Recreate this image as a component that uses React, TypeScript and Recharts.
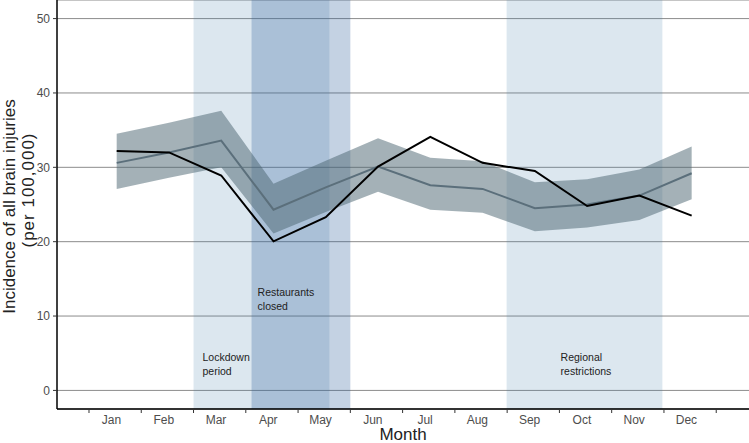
import { ComposedChart, Area, Line, XAxis, YAxis, CartesianGrid, ReferenceArea } from 'recharts';

const MONTHS = ['Jan', 'Feb', 'Mar', 'Apr', 'May', 'Jun', 'Jul', 'Aug', 'Sep', 'Oct', 'Nov', 'Dec'];
const OBSERVED = [32.2, 32.0, 28.9, 20.05, 23.3, 30.1, 34.1, 30.6, 29.5, 24.8, 26.2, 23.5];
const EXPECTED = [30.6, 32.0, 33.6, 24.3, 27.3, 30.1, 27.6, 27.1, 24.5, 25.0, 26.2, 29.2];
const UPPER = [34.5, 36.0, 37.6, 27.8, 30.9, 33.9, 31.3, 30.8, 28.0, 28.4, 29.7, 32.8];
const LOWER = [27.1, 28.6, 30.0, 21.1, 24.0, 26.7, 24.3, 23.9, 21.4, 21.9, 22.9, 25.7];
const Y_TICKS = [0, 10, 20, 30, 40, 50];

// periods, in month units (Jan = 1)
const LOCKDOWN = [2.47, 5.07];
const RESTAURANTS = [3.58, 5.47];
const REGIONAL = [8.46, 11.44];

const FONT = '"Liberation Sans", Arial, sans-serif';

const data = MONTHS.map((name, i) => ({
  m: i + 1,
  name,
  observed: OBSERVED[i],
  expected: EXPECTED[i],
  band: [LOWER[i], UPPER[i]],
}));

// month boundaries get a tick mark, month labels sit in between
const BOUNDARIES = MONTHS.map((_, i) => i + 0.47).concat(12.47);
const LABEL_POS = MONTHS.map((_, i) => i + 0.9);
const labelAt = new Map(LABEL_POS.map((p, i) => [p, MONTHS[i]]));

function MonthTick(props: any) {
  const { x, y, payload } = props;
  const label = labelAt.get(payload.value);
  if (label) {
    return (
      <text x={x} y={y + 15} textAnchor="middle" fontSize={12} fill="#4d4d4d" fontFamily={FONT}>
        {label}
      </text>
    );
  }
  return <line x1={x} x2={x} y1={y} y2={y + 4} stroke="#333" strokeWidth={1} />;
}

function Note(props: any) {
  const { viewBox, lines, dx, fromBottom } = props;
  const base = viewBox.y + viewBox.height - fromBottom;
  return (
    <g>
      {lines.map((t: string, i: number) => (
        <text key={t} x={viewBox.x + dx} y={base + i * 14} fontSize={10.5} fill="#222" fontFamily={FONT}>
          {t}
        </text>
      ))}
    </g>
  );
}

function YTitle() {
  return (
    <g>
      <text
        transform="translate(15, 206.5) rotate(-90)"
        textAnchor="middle"
        fontFamily={FONT}
        fontSize={17}
        fill="#222"
      >
        Incidence of all brain injuries
      </text>
      <text
        transform="translate(33.5, 190) rotate(-90)"
        textAnchor="middle"
        fontFamily={FONT}
        fontSize={17}
        fill="#222"
        letterSpacing={1}
      >
        (per 100,000)
      </text>
    </g>
  );
}

function XTitle(props: any) {
  const { viewBox } = props;
  return (
    <text x={viewBox.x + viewBox.width / 2} y={440} textAnchor="middle" fontSize={17} fill="#222" fontFamily={FONT}>
      Month
    </text>
  );
}

export default function App() {
  return (
    <div style={{ position: 'absolute', left: 0, top: 0, fontFamily: FONT }}>
      <ComposedChart width={749} height={443} data={data} margin={{ top: 0, right: 0, bottom: 0, left: 0 }}>
        <CartesianGrid vertical={false} stroke="#8c8c8c" />
        <ReferenceArea
          x1={LOCKDOWN[0]}
          x2={LOCKDOWN[1]}
          fill="#4682aa"
          fillOpacity={0.19}
          stroke="none"
          label={<Note lines={['Lockdown', 'period']} dx={9} fromBottom={48} />}
        />
        <ReferenceArea
          x1={RESTAURANTS[0]}
          x2={RESTAURANTS[1]}
          fill="#2a5e9b"
          fillOpacity={0.28}
          stroke="none"
          label={<Note lines={['Restaurants', 'closed']} dx={6} fromBottom={113} />}
        />
        <ReferenceArea
          x1={REGIONAL[0]}
          x2={REGIONAL[1]}
          fill="#4682aa"
          fillOpacity={0.19}
          stroke="none"
          label={<Note lines={['Regional', 'restrictions']} dx={54} fromBottom={48} />}
        />
        <XAxis
          type="number"
          dataKey="m"
          domain={[-0.142, 13.097]}
          allowDataOverflow
          ticks={[...BOUNDARIES, ...LABEL_POS]}
          interval={0}
          tick={<MonthTick />}
          tickLine={false}
          tickSize={0}
          tickMargin={0}
          axisLine={{ stroke: '#000', strokeWidth: 1.5 }}
          height={34}
          label={<XTitle />}
        />
        <YAxis
          type="number"
          domain={[-2.5, 52.5]}
          allowDataOverflow
          ticks={Y_TICKS}
          interval={0}
          width={57}
          tickSize={4}
          tickMargin={3}
          tickLine={{ stroke: '#333' }}
          axisLine={{ stroke: '#000', strokeWidth: 1.5 }}
          tick={{ fill: '#4d4d4d', fontSize: 12, fontFamily: FONT }}
          label={<YTitle />}
        />
        <Area
          type="linear"
          dataKey="band"
          stroke="none"
          fill="#4a6470"
          fillOpacity={0.5}
          isAnimationActive={false}
        />
        <Line type="linear" dataKey="expected" stroke="#5b6f7b" strokeWidth={2} dot={false} isAnimationActive={false} />
        <Line type="linear" dataKey="observed" stroke="#000" strokeWidth={2} dot={false} isAnimationActive={false} />
      </ComposedChart>
    </div>
  );
}
